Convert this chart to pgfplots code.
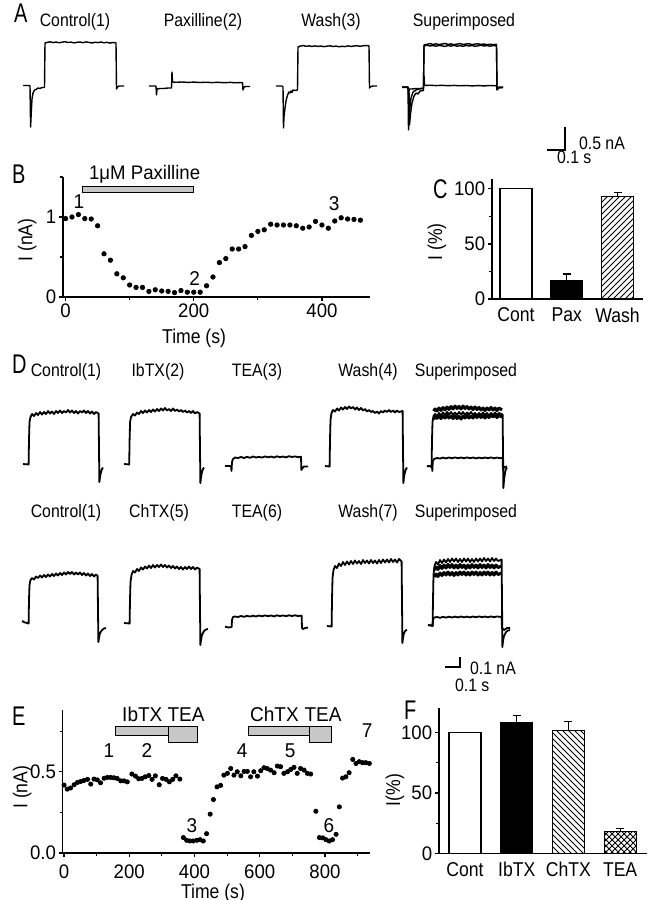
\documentclass[border=0pt]{standalone}
\usepackage{fontspec}
\setmainfont{Liberation Sans}[FakeStretch=0.88]
\newfontfamily\tickfont{Liberation Sans}[FakeStretch=0.95]
\newfontfamily\letterfont{Liberation Sans}[FakeStretch=0.74]
\usepackage{pgfplots}
\usepackage{pgfplotstable}
\pgfplotsset{compat=1.18}
\usetikzlibrary{patterns}

\pgfplotsset{
 /pgf/number format/assume math mode=true,
 panel/.style={scale only axis, axis x line*=bottom, axis y line*=left,
   tick align=outside, major tick length=2pt, minor tick length=1.3pt,
   axis line style={line width=0.6pt}, every tick/.style={line width=0.6pt, black},
   tick label style={font=\tickfont\fontsize{9.8}{10}\selectfont, inner sep=1.2pt},
   label style={font=\fontsize{10}{10}\selectfont}, clip=false},
}
\tikzset{tr/.style={black, line width=0.7pt, line join=round},
 trd/.style={black, line width=0.9pt, line join=round},
 trs/.style={black, line width=1.5pt, line join=round},
 ttl/.style={font=\fontsize{9}{9}\selectfont, anchor=base},
 plab/.style={font=\letterfont\fontsize{13.5}{13.5}\selectfont, anchor=base west},
 sbt/.style={font=\fontsize{9}{9}\selectfont, anchor=base west},
 num/.style={font=\tickfont\fontsize{10}{10}\selectfont, anchor=base},
 drug/.style={font=\tickfont\fontsize{10}{10}\selectfont, anchor=base}}

\pgfplotstableread{
x y
0 0.98
10 1.00
20 1.03
30 0.98
40 0.975
50 0.89
60 0.54
70 0.46
80 0.29
90 0.24
100 0.15
110 0.12
120 0.12
130 0.07
140 0.09
150 0.075
160 0.07
170 0.055
180 0.08
190 0.06
200 0.06
210 0.06
220 0.14
230 0.25
240 0.43
250 0.48
260 0.60
270 0.60
280 0.63
290 0.77
300 0.82
310 0.84
320 0.91
330 0.90
340 0.90
350 0.90
360 0.89
370 0.86
380 0.875
390 0.945
400 0.90
410 0.86
420 0.95
430 0.99
440 0.975
450 0.97
460 0.96
}\datB

\pgfplotstableread{
x y
0 0.418
10 0.393
20 0.40
31 0.42
41 0.434
51 0.44
61 0.446
72 0.453
82 0.424
92 0.455
102 0.45
112 0.432
123 0.46
133 0.465
143 0.465
153 0.463
163 0.459
174 0.444
184 0.444
194 0.438
208 0.486
219 0.473
229 0.457
239 0.459
249 0.469
260 0.477
270 0.453
280 0.475
292 0.42
302 0.459
313 0.453
323 0.438
333 0.453
343 0.475
355 0.455
366 0.095
376 0.078
386 0.074
396 0.074
407 0.078
417 0.082
427 0.074
437 0.119
448 0.239
458 0.329
469 0.407
480 0.416
490 0.479
501 0.49
511 0.52
521 0.479
531 0.50
542 0.475
552 0.502
562 0.502
572 0.469
582 0.50
593 0.473
603 0.506
613 0.525
623 0.52
633 0.51
644 0.494
654 0.535
664 0.531
674 0.49
685 0.50
695 0.514
705 0.527
715 0.49
725 0.52
736 0.51
746 0.49
756 0.486
772 0.257
783 0.095
793 0.093
803 0.082
813 0.074
823 0.082
834 0.115
844 0.284
854 0.461
864 0.469
874 0.494
885 0.576
895 0.551
905 0.562
915 0.556
925 0.556
936 0.551
}\datE

\begin{document}
\begin{tikzpicture}
\useasboundingbox (0,0) rectangle (325.5pt,450pt);

% ---------------- overlay axis for current traces (pixel frame) ----------------
\begin{axis}[at={(0pt,0pt)}, anchor=south west, scale only axis,
  width=325.5pt, height=450pt, xmin=0, xmax=651, ymin=0, ymax=900,
  y dir=reverse, hide axis, clip=false]
% Panel A
\addplot[tr] coordinates {(23,85.5)(29,85.5)(30,86)(30.6,127)(31.3,112)(32,99)(33,93)(34.5,90)(36,89.5)(38,88)(40,88.5)(42,87.5)(44.5,87.5)(45,43)(47,42.5)(50,41.8)(53,42.6)(56,42.0)(59,42.8)(62,42.2)(65,41.7)(68,42.5)(71,42.1)(74,42.9)(77,42.3)(80,42.0)(83,42.7)(86,41.9)(89,42.4)(92,43.0)(95,42.2)(98,42.6)(101,42.0)(104,42.8)(107,42.3)(110,43.1)(113,42.5)(116,42.8)(116.5,89)(117.5,87)(119,86)(124,86)};
\addplot[tr] coordinates {(149,86)(156,86)(156.5,95)(157,89)(160,88.5)(164,88.5)(168,88)(171.5,88)(172,72)(172.5,82)(176,82.3)(182,82)(188,82.4)(194,82.1)(200,82.5)(206,82.2)(212,82.6)(218,82.3)(224,82.7)(230,82.4)(236,82.8)(242.5,82.5)(243,90)(244,87)(246,86.5)(250,86.5)};
\addplot[tr] coordinates {(276,86)(282,86)(283,87)(283.5,128)(284,117)(285,108)(286,101)(287,97)(288,94)(289,92)(290,93)(291,91)(292,92.5)(293,90)(295,90.5)(297.5,90)(298,47)(300,46.2)(303,45.5)(306,46.3)(309,45.8)(312,46.5)(315,45.9)(318,46.4)(321,46.0)(324,46.7)(327,46.2)(330,45.8)(333,46.5)(336,46.1)(339,46.8)(342,46.3)(345,46.6)(348,45.9)(351,46.4)(354,46.0)(357,45.7)(360,46.3)(363,45.8)(366,45.5)(369,45.9)(369.5,88)(371,86.5)(373,86)(377,86)};
\addplot[tr] coordinates {(402,87)(408,87)(408.5,130)(409.5,112)(411,98)(413,92)(416,90)(419,89)(423.5,88.5)(424,45)(427,44.3)(430,43.6)(433,44.5)(436,43.8)(439,44.6)(442,44)(445,43.5)(448,44.4)(451,43.9)(454,44.7)(457,44.1)(460,43.6)(463,44.5)(466,44)(469,43.7)(472,44.6)(475,44.1)(478,43.8)(481,44.5)(484,44)(487,44.7)(490,44.2)(493,44.6)(496.5,44.3)(497,89)(498,87.5)(500,87)(503,87)};
\addplot[tr] coordinates {(402,87.5)(408,87.5)(409,90)(409.5,125)(410.5,114)(412,103)(414,96)(416,93)(418,94)(420,91)(423.5,90.5)(424,46)(427,45.2)(430,46)(433,45.5)(436,46.2)(439,45.4)(442,45.9)(445,46.4)(448,45.5)(451,46.1)(454,45.3)(457,46.2)(460,45.7)(463,46.3)(466,45.4)(469,46)(472,45.5)(475,46.3)(478,45.8)(481,45.2)(484,46)(487,45.6)(490,46.2)(493,45.5)(496.5,45.9)(497,89.5)(498.5,87.5)(503,87.5)};
\addplot[tr] coordinates {(402,87)(408,87)(408.5,95)(409,89)(412,89)(416,88.5)(420,88.5)(423.5,88)(424,76)(424.5,85.5)(430,85.2)(436,85.6)(442,85.3)(448,85.7)(454,85.4)(460,85.8)(466,85.5)(472,85.9)(478,85.6)(484,85.9)(490,85.5)(496.5,85.8)(497,90)(498.5,88)(503,87.5)};
\addplot[black, line width=0.7pt] coordinates {(547,150)(565,150)(565,127)};
\node[plab] at (axis cs:7,22) {A};
\node[ttl] at (axis cs:75,26) {Control(1)};
\node[ttl] at (axis cs:203,26) {Paxilline(2)};
\node[ttl] at (axis cs:331,26) {Wash(3)};
\node[ttl] at (axis cs:464,26) {Superimposed};
\node[sbt] at (axis cs:572,149) {0.5 nA};
\node[sbt] at (axis cs:550,163) {0.1 s};
% Panel D row 1
\addplot[trd] coordinates {(23,464)(28.6,464.5)(29,440)(29.5,422)(30.5,417)(32,414)(34,416)(36,413)(38,415)(40,412)(42,414.5)(44,412)(46,414)(48,411)(50,413.5)(52,411.5)(54,414)(56,411)(58,413)(60,410.5)(62,413)(64,411)(66,412.5)(68,410)(70,412.5)(72,410.5)(74,413)(76,411)(78,413.5)(80,411)(82,412.5)(84,410.5)(86,413)(88,411)(90,413.5)(92,411.5)(94,414)(96,412)(98.6,413.5)(99,450)(99.4,482)(100,477)(101,472)(102,469)(103,467.5)};
\addplot[trd] coordinates {(124,464)(129.2,464.5)(129.6,440)(130.1,422)(131,417)(133,414)(135,415.5)(137,412.5)(139,414)(141,411)(143,413)(145,410.5)(147,412.5)(149,410)(151,412)(153,409.5)(155,411.5)(157,409)(159,411)(161,408.5)(163,410.5)(165,408)(167,410.5)(169,409)(171,411)(173,408.5)(175,411)(177,409.5)(179,411.5)(181,410)(183,412)(185,410.5)(187,412.5)(189,411)(191,413)(193,411)(195,413.5)(197,412)(199.6,413.5)(200,450)(200.4,483)(201,477)(202,472)(203,469)(204,467.5)};
\addplot[trd] coordinates {(225,466)(231,466)(231.5,471)(232,462)(233,459)(235,457.5)(238,458)(241,457)(244,458)(247,456.8)(250,457.8)(253,456.5)(256,457.5)(259,456.8)(262,457.6)(265,456.4)(268,457.3)(271,456.6)(274,457.5)(277,456.3)(280,457.2)(283,456.5)(286,457.4)(289,456.2)(292,457)(295,456.4)(298,457.2)(301,456.8)(301.4,470)(302.5,468)(304,466.5)(308,466.5)};
\addplot[trd] coordinates {(325,466)(329.6,466.5)(330,440)(330.5,420)(331.5,413)(333,410)(335,411.5)(337,408.5)(339,410.5)(341,407.5)(343,409.5)(345,407)(347,409)(349,406.5)(351,408.5)(353,407)(355,409.5)(357,407.5)(359,410)(361,408)(363,410.5)(365,409)(367,411.5)(369,410)(371,412)(373,411)(375,413)(377,411.5)(379,413.5)(381,411)(383,412.5)(385,410.5)(387,412)(389,410)(391,412)(393,410.5)(395,412.5)(397,410.5)(399,412)(402.6,411)(403,450)(403.4,483)(404,477)(405,472)(406,469)(407,467.5)};
\addplot[trd] coordinates {(427,466)(431.6,466.5)(432,440)(432.5,422)(433.5,416)(435,414)(437,416)(439,413)(441,415.5)(443,412.5)(445,415)(447,412)(449,414.5)(451,412)(453,415)(455,412.5)(457,415)(459,412)(461,414.5)(463,412)(465,415)(467,412.5)(469,414.5)(471,412)(473,415)(475,413)(477,415.5)(479,413)(481,415)(483,412.5)(485,415)(487,413)(489,415.5)(491,413)(493,415)(495,412.5)(497,415)(499,413)(502.6,414.5)(503,450)(503.4,488)(504,480)(505,473)(506,469)(507,467.5)};
\addplot[trs] coordinates {(433.5,411)(435,409)(437,411)(439,408)(441,410.5)(443,407.5)(445,410)(447,407)(449,409.5)(451,406.5)(453,409)(455,406)(457,408.5)(459,406.5)(461,409)(463,406)(465,408.5)(467,406.5)(469,409)(471,407)(473,409.5)(475,407)(477,409.5)(479,407.5)(481,410)(483,408)(485,410.5)(487,408)(489,410)(491,407.5)(493,410)(495,408)(497,410.5)(499,408)(502,410)};
\addplot[trs] coordinates {(433.5,419)(435,417)(437,418.5)(439,416)(441,418.5)(443,416)(445,418)(447,415.5)(449,418)(451,416)(453,418.5)(455,416)(457,418.5)(459,416.5)(461,419)(463,416)(465,418)(467,415.5)(469,418)(471,416)(473,418)(475,415.5)(477,417.5)(479,415)(481,417.5)(483,415.5)(485,418)(487,415.5)(489,417.5)(491,415)(493,417)(495,415)(497,417.5)(499,415.5)(502,417)};
\addplot[trd] coordinates {(427,466)(432,466.5)(432.3,471)(432.8,461)(434,459)(437,458)(440,458.6)(443,457.6)(446,458.4)(449,457.5)(452,458.3)(455,457.4)(458,458.2)(461,457.5)(464,458.3)(467,457.4)(470,458.2)(473,457.5)(476,458.4)(479,457.6)(482,458.3)(485,457.5)(488,458.2)(491,457.4)(494,458.3)(497,457.6)(500,458.2)(502.6,457.8)(503,470)(504,467)(507,466.5)};
% Panel D row 2
\addplot[trd] coordinates {(22,621)(25,622.5)(27,623)(28.6,623.5)(29,600)(29.5,585)(30.5,580)(32,578)(34,579.5)(36,576.5)(38,578)(40,575.5)(42,577.5)(44,575)(46,577)(48,574.5)(50,576.5)(52,574)(54,576)(56,573.5)(58,575.5)(60,573)(62,575)(64,572.5)(66,574.5)(68,572)(70,574)(72,572)(74,574.5)(76,572.5)(78,574.5)(80,572.5)(82,575)(84,573)(86,575.5)(88,573.5)(90,576)(92,574)(94,576.5)(96,574.5)(97.6,576)(98,610)(98.4,642)(99,638)(100,633)(102,630)(104,628.5)(106,628)};
\addplot[trd] coordinates {(124,623)(129.6,623.5)(130,600)(130.5,582)(131.5,575)(133,571)(135,572.5)(137,569)(139,571)(141,567.5)(143,569.5)(145,566.5)(147,568.5)(149,565.5)(151,568)(153,565)(155,567.5)(157,565)(159,567)(161,564.5)(163,567)(165,565)(167,567.5)(169,565.5)(171,568)(173,566)(175,568.5)(177,566.5)(179,569)(181,567)(183,569.5)(185,567)(187,569)(189,566.5)(191,569)(193,567)(195,569.5)(197,567.5)(199.6,569)(200,610)(200.4,645)(201,640)(202,635)(204,631)(206,629.5)(208,629)};
\addplot[trd] coordinates {(225,626.5)(228,627.5)(231.6,627)(232,620)(233,617)(235,616.5)(238,617)(241,616)(244,616.8)(247,615.8)(250,616.6)(253,615.7)(256,616.5)(259,615.5)(262,616.3)(265,615.4)(268,616.2)(271,615.5)(274,616.4)(277,615.3)(280,616.1)(283,615.4)(286,616.2)(289,615.3)(292,616)(295,615.3)(298,616)(301.6,615.6)(302,628)(303,629)(305,628)(308,627.5)};
\addplot[trd] coordinates {(327,626)(331.6,626.5)(332,600)(332.5,578)(333.5,570)(335,566)(337,568)(339,563.5)(341,566)(343,562)(345,565)(347,561.5)(349,564.5)(351,561)(353,564)(355,560.5)(357,563.5)(359,561)(361,564)(363,560)(365,563)(367,560.5)(369,563.5)(371,560)(373,563)(375,560.5)(377,563.5)(379,560)(381,563)(383,559.5)(385,562.5)(387,559.5)(389,562.5)(391,559)(393,562)(395,559.5)(397,562.5)(399,559)(401.6,561.5)(402,600)(402.4,643)(403,638)(404,633)(405.5,630.5)(407,630)};
\addplot[trd] coordinates {(428,625)(432.6,625.5)(433,600)(433.5,575)(434.5,566)(436,562)(438,564.5)(440,560)(442,563)(444,559.5)(446,562.5)(448,559)(450,562)(452,558.5)(454,561.5)(456,558.5)(458,562)(460,559)(462,562)(464,558.5)(466,561.5)(468,558.5)(470,562)(472,559)(474,562)(476,558.5)(478,561.5)(480,558.5)(482,561.5)(484,558)(486,561)(488,558.5)(490,561.5)(492,558)(494,561)(496,558.5)(498,561)(501.6,559.5)(502,600)(502.4,647)(503,641)(504,636)(506,632)(508,630.5)(510,630)};
\addplot[trs] coordinates {(434.5,570)(436,567)(438,569.5)(440,565.5)(442,568.5)(444,565)(446,568)(448,564.5)(450,567.5)(452,564.5)(454,568)(456,565)(458,568)(460,564.5)(462,567.5)(464,565)(466,568.5)(468,565)(470,568)(472,564.5)(474,567.5)(476,565)(478,568)(480,564.5)(482,567.5)(484,565)(486,568)(488,564.5)(490,567.5)(492,565)(494,568)(496,565)(498,567.5)(501.6,566)};
\addplot[trs] coordinates {(434.5,577)(436,574)(438,576.5)(440,573)(442,575.5)(444,572.5)(446,575)(448,572)(450,575)(452,572.5)(454,575.5)(456,572.5)(458,575)(460,572)(462,574.5)(464,572)(466,575)(468,572.5)(470,575)(472,572)(474,574.5)(476,572)(478,575)(480,572.5)(482,575)(484,572)(486,574.5)(488,572)(490,575)(492,572.5)(494,575)(496,572)(498,574.5)(501.6,573)};
\addplot[trd] coordinates {(428,625)(432.6,626)(433,620)(434,617.5)(437,617)(440,617.8)(443,616.8)(446,617.6)(449,616.7)(452,617.5)(455,616.6)(458,617.4)(461,616.5)(464,617.3)(467,616.6)(470,617.4)(473,616.5)(476,617.3)(479,616.4)(482,617.2)(485,616.5)(488,617.3)(491,616.4)(494,617.2)(497,616.5)(501.6,617)(502,628)(504,630)(507,628)(510,628)};
\addplot[black, line width=0.7pt] coordinates {(445,667)(460,667)(460,657)};
\node[plab] at (axis cs:5,373) {D};
\node[ttl] at (axis cs:66,376) {Control(1)};
\node[ttl] at (axis cs:158,376) {IbTX(2)};
\node[ttl] at (axis cs:257,376) {TEA(3)};
\node[ttl] at (axis cs:368,376) {Wash(4)};
\node[ttl] at (axis cs:466,376) {Superimposed};
\node[ttl] at (axis cs:66,517) {Control(1)};
\node[ttl] at (axis cs:159,517) {ChTX(5)};
\node[ttl] at (axis cs:257,517) {TEA(6)};
\node[ttl] at (axis cs:368,517) {Wash(7)};
\node[ttl] at (axis cs:466,517) {Superimposed};
\node[sbt] at (axis cs:463,674) {0.1 nA};
\node[sbt] at (axis cs:448,691) {0.1 s};
\node[plab] at (axis cs:5,183) {B};
\node[plab] at (axis cs:426,198) {C};
\node[plab] at (axis cs:5,725) {E};
\node[plab] at (axis cs:397,719) {F};
\end{axis}

% ---------------- Panel B ----------------
\begin{axis}[panel, at={(31.5pt,301.5pt)}, anchor=south west,
  width=153.5pt, height=60pt, xmin=-4, xmax=475, ymin=0, ymax=1.5,
  xtick={0,200,400}, minor xtick={100,300}, ytick={0,1}, minor ytick={0.5,1.5},
  xlabel={Time (s)}, ylabel={I (nA)},
  xlabel style={at={(axis description cs:0.427,0)}, anchor=base, yshift=-23.5pt},
  ylabel style={at={(axis description cs:-0.117,0.475)}, anchor=center}]
\addplot[draw=black, line width=0.4pt, fill=black!22] coordinates {(27,1.3125)(200,1.3125)(200,1.3875)(27,1.3875)} -- cycle;
\addplot[only marks, mark=*, mark size=1.1pt, black] table {\datB};
\node[font=\tickfont\fontsize{9.8}{10}\selectfont, anchor=base west] at (axis cs:25.7,1.4625) {1μM Paxilline};
\node[num] at (axis cs:21,1.1) {1};
\node[num] at (axis cs:201.5,0.14) {2};
\node[num] at (axis cs:419,1.075) {3};
\end{axis}

% ---------------- Panel C ----------------
\begin{axis}[panel, at={(246pt,300.5pt)}, anchor=south west,
  width=75.5pt, height=60pt, xmin=-0.47, xmax=2.5, ymin=0, ymax=109,
  xtick={0,1,2}, xticklabels={Cont,Pax,Wash}, x tick style={draw=none},
  xticklabel style={font=\fontsize{10}{10}\selectfont, yshift=-1pt},
  ytick={0,50,100}, minor ytick={25,75},
  ylabel={I (\%)},
  ylabel style={at={(axis description cs:-0.364,0.475)}, anchor=center}]
\addplot[ybar, bar width=16pt, bar shift=0pt, draw=black, line width=0.6pt, fill=white] coordinates {(0,100)};
\addplot[ybar, bar width=16pt, bar shift=0pt, draw=black, line width=0.6pt, fill=black,
  error bars/.cd, y dir=plus, y explicit, error bar style={line width=0.6pt, black},
  error mark options={rotate=90, mark size=2pt, line width=0.6pt, black}] coordinates {(1,17) +- (0,5.7)};
\addplot[ybar, bar width=16pt, bar shift=0pt, draw=black, line width=0.6pt, pattern=north east lines,
  error bars/.cd, y dir=plus, y explicit, error bar style={line width=0.6pt, black},
  error mark options={rotate=90, mark size=2pt, line width=0.6pt, black}] coordinates {(2,93) +- (0,4)};
\end{axis}

% ---------------- Panel E ----------------
\begin{axis}[panel, at={(31.35pt,23.5pt)}, anchor=south west,
  width=153.65pt, height=71.5pt, xmin=-4, xmax=938, ymin=0, ymax=0.88,
  xtick={0,200,400,600,800}, minor xtick={100,300,500,700,900},
  xticklabel style={yshift=-2.5pt},
  ytick={0,0.5}, minor ytick={0.25,0.75},
  yticklabel style={/pgf/number format/fixed, /pgf/number format/fixed zerofill, /pgf/number format/precision=1},
  xlabel={Time (s)}, ylabel={I (nA)},
  xlabel style={at={(axis description cs:0.489,0)}, anchor=base, yshift=-22.5pt},
  ylabel style={at={(axis description cs:-0.132,0.46)}, anchor=center}]
\addplot[draw=black, line width=0.5pt, fill=black!22] coordinates {(159,0.726)(319,0.726)(319,0.78)(159,0.78)} -- cycle;
\addplot[draw=black, line width=0.5pt, fill=black!22] coordinates {(319,0.683)(408,0.683)(408,0.78)(319,0.78)} -- cycle;
\addplot[draw=black, line width=0.5pt, fill=black!22] coordinates {(564,0.726)(754,0.726)(754,0.78)(564,0.78)} -- cycle;
\addplot[draw=black, line width=0.5pt, fill=black!22] coordinates {(754,0.683)(821,0.683)(821,0.78)(754,0.78)} -- cycle;
\addplot[only marks, mark=*, mark size=1.05pt, black] table {\datE};
\node[drug] at (axis cs:240,0.812) {IbTX};
\node[drug] at (axis cs:374,0.812) {TEA};
\node[drug] at (axis cs:645,0.812) {ChTX};
\node[drug] at (axis cs:794,0.812) {TEA};
\node[num] at (axis cs:138,0.59) {1};
\node[num] at (axis cs:254,0.59) {2};
\node[num] at (axis cs:392,0.129) {3};
\node[num] at (axis cs:546,0.59) {4};
\node[num] at (axis cs:693,0.59) {5};
\node[num] at (axis cs:812,0.129) {6};
\node[num] at (axis cs:929,0.713) {7};
\end{axis}

% ---------------- Panel F ----------------
\begin{axis}[panel, at={(219.5pt,23.2pt)}, anchor=south west,
  width=104pt, height=72.8pt, xmin=-0.503, xmax=3.52, ymin=0, ymax=120,
  xtick={0,1,2,3}, xticklabels={Cont,IbTX,ChTX,TEA}, x tick style={draw=none},
  xticklabel style={font=\fontsize{10}{10}\selectfont, yshift=-1pt},
  ytick={0,50,100}, minor ytick={25,75},
  ylabel={I(\%)},
  ylabel style={at={(axis description cs:-0.2115,0.437)}, anchor=center}]
\addplot[ybar, bar width=16pt, bar shift=0pt, draw=black, line width=0.6pt, fill=white] coordinates {(0,100)};
\addplot[ybar, bar width=16pt, bar shift=0pt, draw=black, line width=0.6pt, fill=black,
  error bars/.cd, y dir=plus, y explicit, error bar style={line width=0.6pt, black},
  error mark options={rotate=90, mark size=2pt, line width=0.6pt, black}] coordinates {(1,108) +- (0,6)};
\addplot[ybar, bar width=16pt, bar shift=0pt, draw=black, line width=0.6pt, pattern=north west lines,
  error bars/.cd, y dir=plus, y explicit, error bar style={line width=0.6pt, black},
  error mark options={rotate=90, mark size=2pt, line width=0.6pt, black}] coordinates {(2,101.5) +- (0,7.5)};
\addplot[ybar, bar width=16pt, bar shift=0pt, draw=black, line width=0.6pt, pattern=crosshatch,
  error bars/.cd, y dir=plus, y explicit, error bar style={line width=0.6pt, black},
  error mark options={rotate=90, mark size=2pt, line width=0.6pt, black}] coordinates {(3,18.5) +- (0,2.2)};
\end{axis}
\end{tikzpicture}
\end{document}
